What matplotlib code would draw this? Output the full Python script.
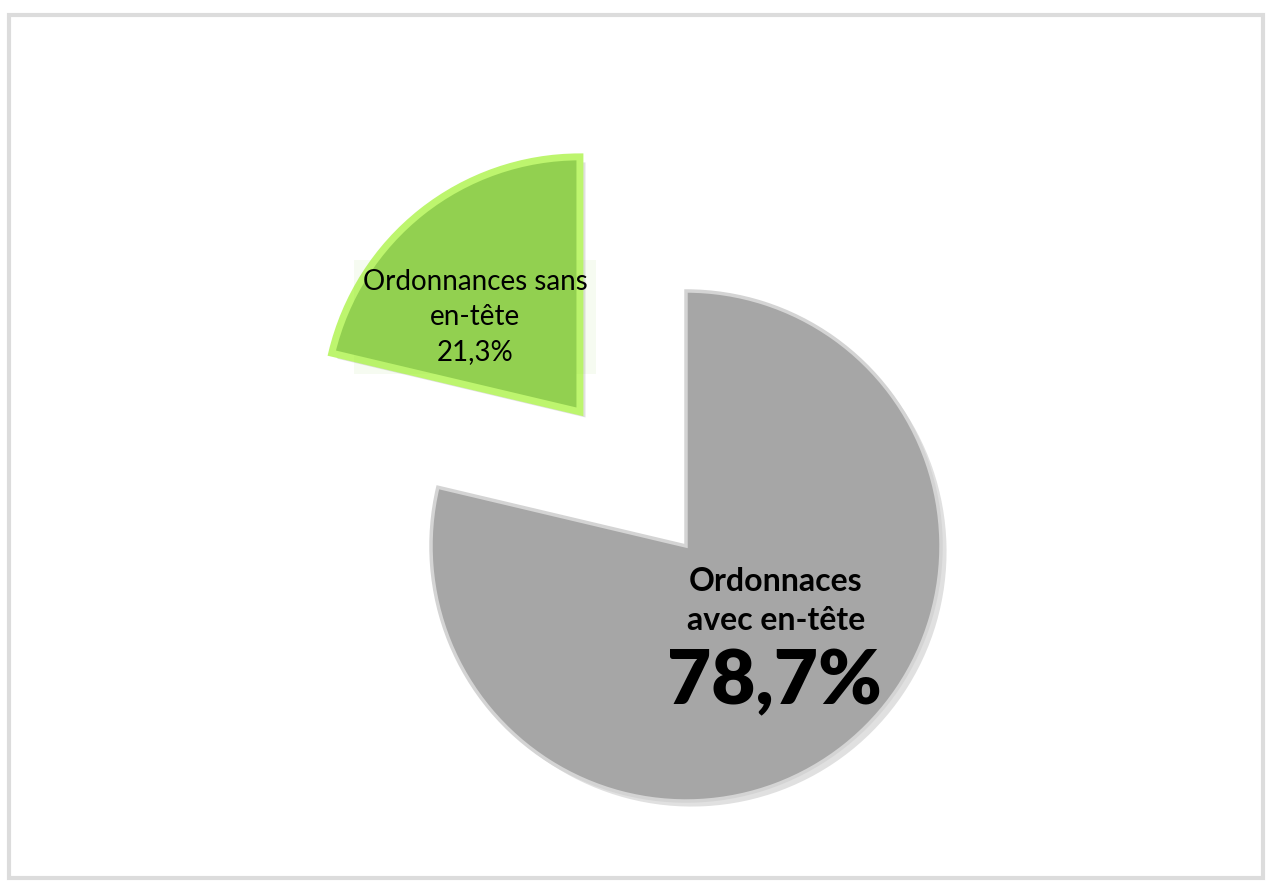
import matplotlib.pyplot as plt
import matplotlib.patheffects as pe
from matplotlib.patches import Rectangle

# parts des ordonnances (%)
categories = ['Ordonnaces\navec en-tête', 'Ordonnances sans\nen-tête']
valeurs = [78.7, 21.3]
couleurs = ['#A6A6A6', '#92D050']
bords = ['#d4d4d4', '#bdf56e']

W, H = 1269, 882
fig = plt.figure(figsize=(W / 100, H / 100), dpi=100)
ax = fig.add_axes([0, 0, 1, 1])

# centre et rayon du camembert en unités de l'axe (pixels)
cx, cy, r = 686, H - 546, 255
ecart = 171

wedges, _ = ax.pie(valeurs, colors=couleurs, startangle=90, counterclock=False,
                   center=(cx, cy), radius=r, explode=[0, ecart],
                   wedgeprops=dict(linewidth=0))
for w, b in zip(wedges, bords):
    w.set_edgecolor(b)
    w.set_linewidth(5 if b == bords[1] else 2.5)
    w.set_path_effects([pe.SimplePatchShadow(offset=(4, -4), shadow_rgbFace='#999999', alpha=0.3),
                        pe.Normal()])

ax.set_xlim(0, W)
ax.set_ylim(0, H)
ax.set_aspect('equal')
ax.axis('off')

# étiquette de la part verte
ax.text(475, H - 317, '%s\n%s%%' % (categories[1], str(valeurs[1]).replace('.', ',')),
        ha='center', va='center', fontsize=20, family='Lato', linespacing=1.45,
        bbox=dict(boxstyle='square,pad=0.3', facecolor='#92D050', alpha=0.08, edgecolor='none'))

# étiquette de la part grise
ax.text(776, H - 601, categories[0], ha='center', va='center', fontsize=23,
        family='Lato', fontweight='bold', linespacing=1.45)
ax.text(774, H - 682, str(valeurs[0]).replace('.', ',') + '%', ha='center', va='center',
        fontsize=55, family='Lato', fontweight='heavy')

# cadre du graphique
fig.patches.append(Rectangle((9, 4), W - 15, H - 19, transform=None, fill=False,
                             edgecolor='#dcdcdc', linewidth=3))

fig.savefig('out.png', dpi=100)
